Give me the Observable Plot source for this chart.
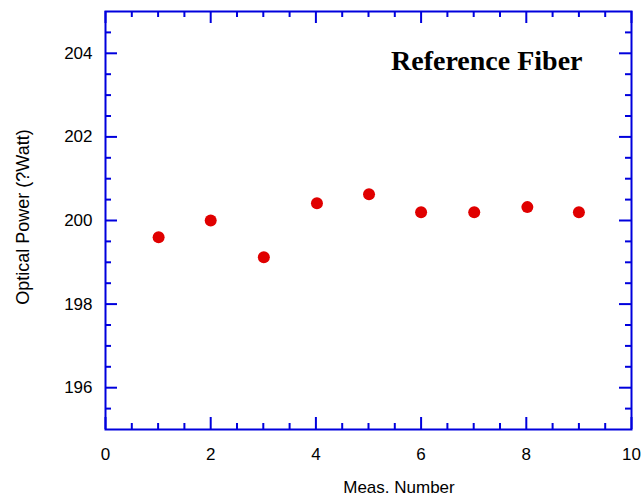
<!DOCTYPE html>
<html>
<head>
<meta charset="utf-8">
<script src="https://cdn.jsdelivr.net/npm/d3@7"></script>
<script src="https://cdn.jsdelivr.net/npm/@observablehq/plot@0.6"></script>
<style>
  html, body { margin: 0; padding: 0; background: #fff; }
  #chart svg { display: block; }
</style>
</head>
<body>
<div id="chart"></div>
<script>
const measNumber = [1.01, 2, 3.01, 4.02, 5.01, 6, 7.01, 8.02, 9];
const opticalPower = [199.6, 200.0, 199.12, 200.41, 200.63, 200.2, 200.2, 200.32, 200.2];
const xMajorTicks = [0, 2, 4, 6, 8, 10];
const xMinorTicks = d3.range(0, 10.001, 0.5).filter(v => v % 2 !== 0);
const yMajorTicks = [196, 198, 200, 202, 204];
const yMinorTicks = d3.range(195, 205.001, 0.5).filter(v => !yMajorTicks.includes(v) && v !== 195 && v !== 205);
const titleText = "Reference Fiber";
const xLabel = "Meas. Number";
const yLabel = "Optical Power (?Watt)";

const W = 644, H = 497;
const mL = 105, mR = 13, mT = 11, mB = 68;
const iw = W - mL - mR, ih = H - mT - mB;
const blue = "#0000dd";
const red = "#e00000";
const majorLen = 12, minorLen = 6;

const data = measNumber.map((x, i) => ({x, y: opticalPower[i]}));

const chart = Plot.plot({
  width: W, height: H,
  marginLeft: mL, marginRight: mR, marginTop: mT, marginBottom: mB,
  style: {fontFamily: "'Liberation Sans', Arial, sans-serif", background: "#fff"},
  x: {domain: [0, 10]},
  y: {domain: [195, 205]},
  marks: [
    Plot.tickX(xMajorTicks, {x: d => d, stroke: blue, strokeWidth: 2, insetTop: ih - majorLen}),
    Plot.tickX(xMinorTicks, {x: d => d, stroke: blue, strokeWidth: 2, insetTop: ih - minorLen}),
    Plot.tickX(xMajorTicks, {x: d => d, stroke: blue, strokeWidth: 2, insetBottom: ih - majorLen}),
    Plot.tickX(xMinorTicks, {x: d => d, stroke: blue, strokeWidth: 2, insetBottom: ih - minorLen}),
    Plot.tickY(yMajorTicks, {y: d => d, stroke: blue, strokeWidth: 2, insetRight: iw - majorLen}),
    Plot.tickY(yMinorTicks, {y: d => d, stroke: blue, strokeWidth: 2, insetRight: iw - minorLen}),
    Plot.tickY(yMajorTicks, {y: d => d, stroke: blue, strokeWidth: 2, insetLeft: iw - majorLen}),
    Plot.tickY(yMinorTicks, {y: d => d, stroke: blue, strokeWidth: 2, insetLeft: iw - minorLen}),
    Plot.frame({stroke: blue, strokeWidth: 2}),
    Plot.axisX(xMajorTicks, {anchor: "bottom", tickSize: 0, tickPadding: 18, fontSize: 17, fill: "#000", label: null}),
    Plot.axisY(yMajorTicks, {anchor: "left", tickSize: 0, tickPadding: 13, fontSize: 17, fill: "#000", label: null}),
    Plot.dot(data, {x: "x", y: "y", r: 6, fill: red, stroke: null}),
    Plot.text([titleText], {frameAnchor: "top-right", dx: -49, dy: 58, lineAnchor: "bottom",
      fontFamily: "'Liberation Serif', 'Times New Roman', serif", fontWeight: "bold", fontSize: 28, fill: "#000", textAnchor: "end"})
  ]
});

const svg = d3.select(chart);
svg.append("text")
  .attr("x", 399).attr("y", 493)
  .attr("text-anchor", "middle")
  .attr("font-family", "'Liberation Sans', Arial, sans-serif")
  .attr("font-size", 17)
  .attr("fill", "#000")
  .text(xLabel);
svg.append("text")
  .attr("transform", "translate(29,217) rotate(-90)")
  .attr("text-anchor", "middle")
  .attr("font-family", "'Liberation Sans', Arial, sans-serif")
  .attr("font-size", 18)
  .attr("fill", "#000")
  .text(yLabel);

document.getElementById("chart").appendChild(chart);
</script>
</body>
</html>
